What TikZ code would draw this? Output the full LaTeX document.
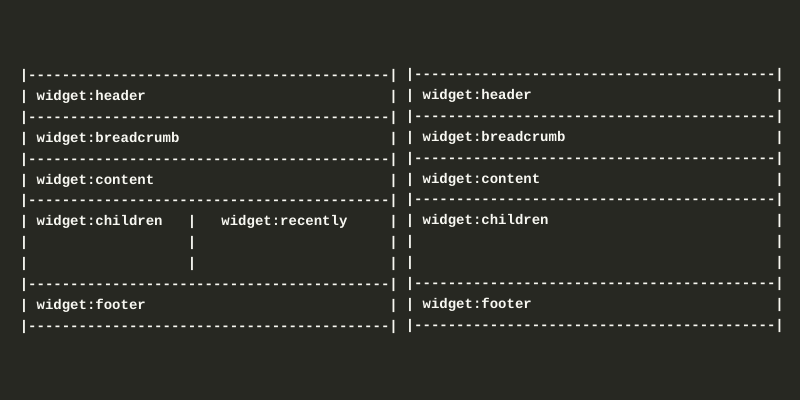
\documentclass[tikz,border=0pt]{standalone}
\usepackage{fontspec}
\setmonofont{Liberation Mono}
\definecolor{bg}{HTML}{272822}
\definecolor{fg}{HTML}{F8F8F2}
\newcommand\dashrow{|-------------------------------------------|}
\tikzset{
  row/.style={anchor=base west, inner sep=0pt, outer sep=0pt, text=fg,
    font=\ttfamily\bfseries\fontsize{14}{14}\selectfont}
}
\begin{document}
\begin{tikzpicture}[x=1pt,y=-1pt]
\fill[bg] (0,0) rectangle (800,400);
\useasboundingbox (0,0) rectangle (800,400);
% left layout
\begin{scope}[shift={(19.8pt,-79.5pt)}, x=8.4pt, y=-20.9pt]
\node[row] (la0) at (0,0) {\dashrow};
\node[row] (la1) at (0,1) {| widget:header};
\node[row] (lb1) at (44,1) {|};
\node[row] (la2) at (0,2) {\dashrow};
\node[row] (la3) at (0,3) {| widget:breadcrumb};
\node[row] (lb3) at (44,3) {|};
\node[row] (la4) at (0,4) {\dashrow};
\node[row] (la5) at (0,5) {| widget:content};
\node[row] (lb5) at (44,5) {|};
\node[row] (la6) at (0,6) {\dashrow};
\node[row] (la7) at (0,7) {| widget:children};
\node[row] (lm7) at (20,7) {|};
\node[row] (lc7) at (24,7) {widget:recently};
\node[row] (lb7) at (44,7) {|};
\node[row] (la8) at (0,8) {|};
\node[row] (lm8) at (20,8) {|};
\node[row] (lb8) at (44,8) {|};
\node[row] (la9) at (0,9) {|};
\node[row] (lm9) at (20,9) {|};
\node[row] (lb9) at (44,9) {|};
\node[row] (la10) at (0,10) {\dashrow};
\node[row] (la11) at (0,11) {| widget:footer};
\node[row] (lb11) at (44,11) {|};
\node[row] (la12) at (0,12) {\dashrow};
\end{scope}
% right layout
\begin{scope}[shift={(405.8pt,-78.5pt)}, x=8.4pt, y=-20.9pt]
\node[row] (ra0) at (0,0) {\dashrow};
\node[row] (ra1) at (0,1) {| widget:header};
\node[row] (rb1) at (44,1) {|};
\node[row] (ra2) at (0,2) {\dashrow};
\node[row] (ra3) at (0,3) {| widget:breadcrumb};
\node[row] (rb3) at (44,3) {|};
\node[row] (ra4) at (0,4) {\dashrow};
\node[row] (ra5) at (0,5) {| widget:content};
\node[row] (rb5) at (44,5) {|};
\node[row] (ra6) at (0,6) {\dashrow};
\node[row] (ra7) at (0,7) {| widget:children};
\node[row] (rb7) at (44,7) {|};
\node[row] (ra8) at (0,8) {|};
\node[row] (rb8) at (44,8) {|};
\node[row] (ra9) at (0,9) {|};
\node[row] (rb9) at (44,9) {|};
\node[row] (ra10) at (0,10) {\dashrow};
\node[row] (ra11) at (0,11) {| widget:footer};
\node[row] (rb11) at (44,11) {|};
\node[row] (ra12) at (0,12) {\dashrow};
\end{scope}
\end{tikzpicture}
\end{document}
